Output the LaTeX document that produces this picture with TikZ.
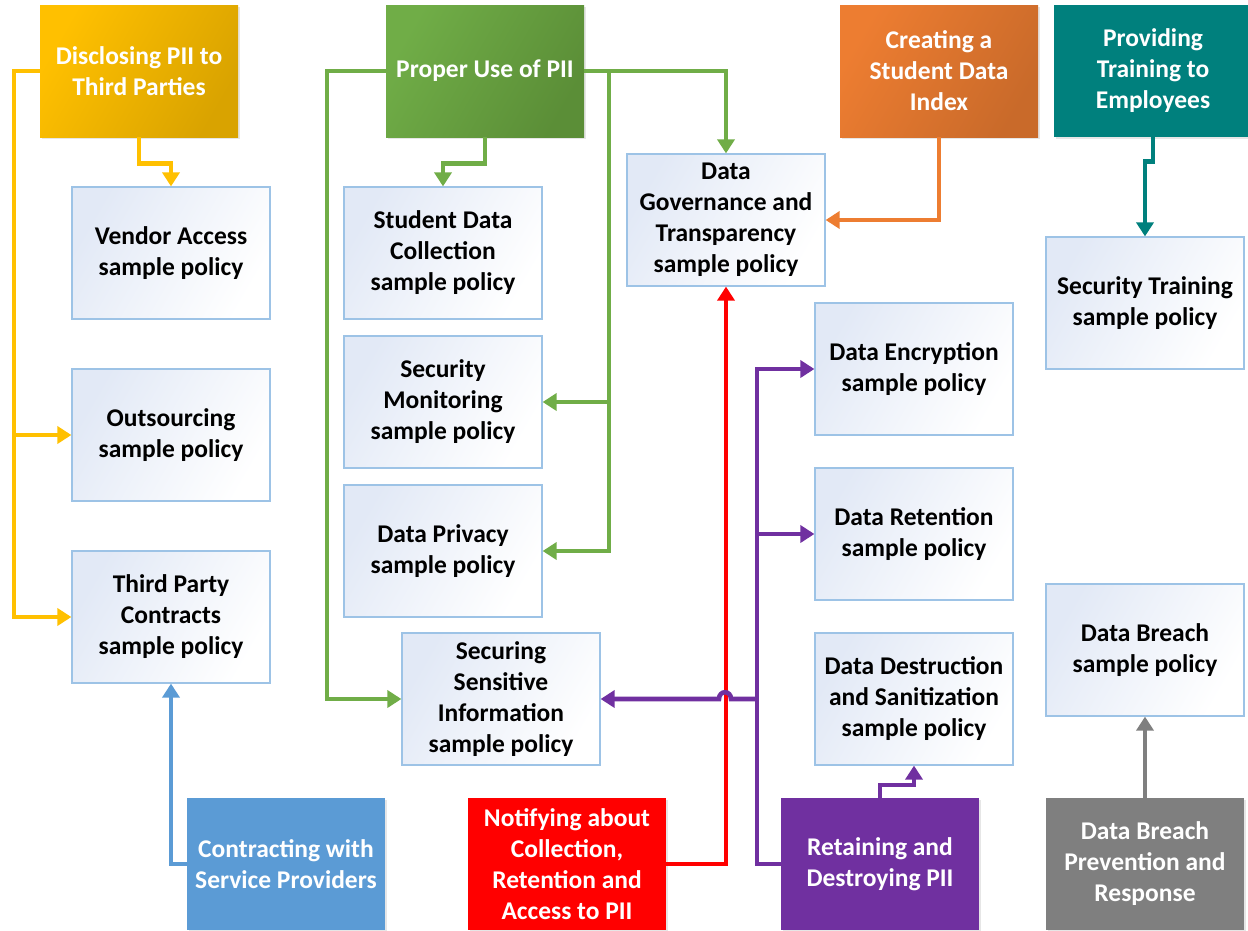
\documentclass[tikz,border=0pt]{standalone}
\usepackage{fontspec}
\setmainfont{Carlito}
\usetikzlibrary{arrows.meta,shadows}
\definecolor{cYel}{HTML}{FFC000}
\definecolor{cYelD}{HTML}{D9A300}
\definecolor{cGrn}{HTML}{70AD47}
\definecolor{cGrnD}{HTML}{5B8E37}
\definecolor{cOra}{HTML}{ED7D31}
\definecolor{cOraD}{HTML}{C96A2A}
\definecolor{cTeal}{HTML}{00807D}
\definecolor{cBlu}{HTML}{5B9BD5}
\definecolor{cRed}{HTML}{FF0000}
\definecolor{cPur}{HTML}{7030A0}
\definecolor{cGry}{HTML}{7F7F7F}
\definecolor{pBord}{HTML}{9DC3E6}
\definecolor{pFill}{HTML}{E2E9F6}
\tikzset{
  base/.style={minimum width=198pt, minimum height=132pt, inner sep=0pt, align=center,
    font=\fontsize{25.5}{31}\selectfont\bfseries},
  pbox/.style={base, draw=pBord, line width=1.2pt, left color=pFill, right color=white, shading angle=60, text=black},
  cbox/.style={base, text=white, drop shadow={shadow xshift=2pt, shadow yshift=-2pt, opacity=0.2}},
  conn/.style={line width=4.6pt, -{Triangle[width=17pt,length=14pt]}},
}
\begin{document}
\begin{tikzpicture}[x=1pt,y=-1pt]
\useasboundingbox (0,0) rectangle (1248,930);
% top colored boxes
\node[cbox, left color=cYel, right color=cYelD, shading angle=60] (discl) at (139,71) {Disclosing PII to\\Third Parties};
\node[cbox, left color=cGrn, right color=cGrnD, shading angle=60] (proper) at (485,71) {Proper Use of PII};
\node[cbox, left color=cOra, right color=cOraD, shading angle=60] (create) at (939,71) {Creating a\\Student Data\\Index};
\node[cbox, fill=cTeal] (prov) at (1153,71) {Providing\\Training to\\Employees};
% bottom colored boxes
\node[cbox, fill=cBlu] (contract) at (286,864) {Contracting with\\Service Providers};
\node[cbox, fill=cRed] (notify) at (567,864) {Notifying about\\Collection,\\Retention and\\Access to PII};
\node[cbox, fill=cPur] (ret) at (880,864) {Retaining and\\Destroying PII};
\node[cbox, fill=cGry] (dbp) at (1145,864) {Data Breach\\Prevention and\\Response};
% policy boxes
\node[pbox] (vendor) at (171,253) {Vendor Access\\sample policy};
\node[pbox] (outs) at (171,435) {Outsourcing\\sample policy};
\node[pbox] (third) at (171,617) {Third Party\\Contracts\\sample policy};
\node[pbox] (sdc) at (443,253) {Student Data\\Collection\\sample policy};
\node[pbox] (secmon) at (443,402) {Security\\Monitoring\\sample policy};
\node[pbox] (priv) at (443,551) {Data Privacy\\sample policy};
\node[pbox] (secure) at (501,699) {Securing\\Sensitive\\Information\\sample policy};
\node[pbox] (gov) at (726,220) {Data\\Governance and\\Transparency\\sample policy};
\node[pbox] (enc) at (914,369) {Data Encryption\\sample policy};
\node[pbox] (reten) at (914,534) {Data Retention\\sample policy};
\node[pbox] (destr) at (914,699) {Data Destruction\\and Sanitization\\sample policy};
\node[pbox] (train) at (1145,303) {Security Training\\sample policy};
\node[pbox] (breach) at (1145,650) {Data Breach\\sample policy};
% junction coordinates
\coordinate (yJ1) at (14,617);
\coordinate (yJ2) at (14,435);
\coordinate (gJ1) at (327,699);
\coordinate (gT) at (609,71);
\coordinate (gB) at (609,551);
\coordinate (gM) at (609,402);
\coordinate (pB) at (757,864);
\coordinate (pM) at (757,534);
\coordinate (pS) at (757,699);
\coordinate (hopR) at (731,699);
\coordinate (hopL) at (719,699);
% yellow
\draw[conn, cYel] (discl.west) -| (yJ1) -- (third.west);
\draw[conn, cYel] (yJ2) -- (outs.west);
\draw[conn, cYel] (discl.south) -- ++(0,26) -| (vendor.north);
% green
\draw[conn, cGrn] (proper.west) -| (gJ1) -- (secure.west);
\draw[conn, cGrn] (proper.east) -| (gov.north);
\draw[conn, cGrn] (gT) -- (gB) -- (priv.east);
\draw[conn, cGrn] (gM) -- (secmon.east);
\draw[conn, cGrn] (proper.south) -- ++(0,26) -| (sdc.north);
% orange
\draw[conn, cOra] (create.south) |- (gov.east);
% teal
\draw[conn, cTeal] (prov.south) -- ++(0,24) -| (train.north);
% blue
\draw[conn, cBlu] (contract.west) -| (third.south);
% red
\draw[conn, cRed] (notify.east) -| (gov.south);
% purple
\draw[conn, cPur] (ret.west) -- (pB) |- (enc.west);
\draw[conn, cPur] (pM) -- (reten.west);
\draw[conn, cPur] (pS) -- (hopR) .. controls (731,690) and (719,690) .. (hopL) -- (secure.east);
\draw[conn, cPur] (ret.north) -- ++(0,-13) -| (destr.south);
% gray
\draw[conn, cGry] (dbp.north) -- (breach.south);
\end{tikzpicture}
\end{document}
